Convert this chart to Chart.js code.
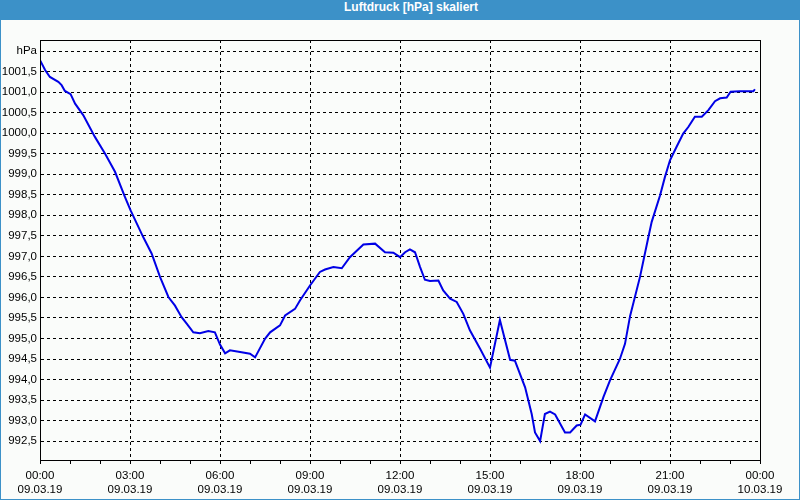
<!DOCTYPE html>
<html>
<head>
<meta charset="utf-8">
<script src="https://cdn.jsdelivr.net/npm/chart.js@4.4.1/dist/chart.umd.min.js"></script>
<style>
  html, body { margin: 0; padding: 0; background: #ffffff; }
  #frame {
    position: absolute; left: 0; top: 0; width: 798px; height: 499px;
    border-left: 1px solid #3c91c8; border-right: 1px solid #3c91c8; border-bottom: 1px solid #3c91c8;
    background: #fafcfa;
  }
  #title {
    height: 20px; line-height: 20px; background: #3c91c8; color: #fff; padding-left: 22px;
    font: bold 12px "Liberation Sans", Arial, sans-serif; text-align: center;
  }
  #wrap { position: absolute; left: 0; top: 20px; width: 798px; height: 479px; }
</style>
</head>
<body>
<div id="frame">
  <div id="title">Luftdruck [hPa] skaliert</div>
  <div id="wrap"><canvas id="luftdruckChart"></canvas></div>
</div>
<script>
// hours since 09.03.19 00:00
var hours = [0.00, 0.17, 0.33, 0.61, 0.72, 0.83, 1.02, 1.17, 1.44, 1.83, 2.17, 2.50, 2.83, 3.02,
  3.44, 3.72, 4.00, 4.28, 4.50, 4.72, 4.89, 5.11, 5.33, 5.61, 5.83, 6.00, 6.17, 6.33, 6.67,
  7.00, 7.17, 7.50, 7.67, 8.00, 8.17, 8.50, 8.67, 9.00, 9.33, 9.50, 9.78, 10.06, 10.33, 10.78,
  11.17, 11.50, 11.78, 12.00, 12.17, 12.33, 12.50, 12.67, 12.83, 13.00, 13.28, 13.44, 13.67,
  13.89, 14.11, 14.33, 14.67, 15.00, 15.33, 15.67, 15.83, 16.17, 16.39, 16.50, 16.67, 16.83,
  17.00, 17.17, 17.50, 17.67, 17.89, 18.02, 18.17, 18.50, 18.78, 19.00, 19.33, 19.50, 19.67,
  20.00, 20.28, 20.39, 20.67, 20.83, 21.00, 21.22, 21.44, 21.61, 21.83, 22.06, 22.28, 22.50,
  22.67, 22.89, 23.02, 23.33, 23.78, 23.83];

// Luftdruck in hPa
var pressure = [1001.78, 1001.54, 1001.37, 1001.25, 1001.17, 1001.03, 1000.95, 1000.72, 1000.44,
  999.91, 999.50, 999.06, 998.45, 998.12, 997.47, 997.07, 996.50, 996.01, 995.80, 995.52, 995.36,
  995.15, 995.13, 995.18, 995.15, 994.85, 994.64, 994.71, 994.67, 994.63, 994.54, 994.99, 995.15,
  995.32, 995.56, 995.72, 995.93, 996.29, 996.62, 996.68, 996.74, 996.71, 996.98, 997.29, 997.31,
  997.10, 997.09, 996.98, 997.10, 997.17, 997.10, 996.74, 996.43, 996.40, 996.41, 996.17, 995.97,
  995.89, 995.60, 995.20, 994.75, 994.29, 995.45, 994.48, 994.46, 993.81, 993.16, 992.71, 992.50,
  993.16, 993.22, 993.15, 992.71, 992.71, 992.88, 992.90, 993.15, 992.98, 993.57, 993.98, 994.50,
  994.87, 995.55, 996.50, 997.47, 997.84, 998.49, 998.93, 999.34, 999.67, 999.99, 1000.15,
  1000.40, 1000.40, 1000.56, 1000.78, 1000.85, 1000.87, 1001.01, 1001.02, 1001.02, 1001.07];

var timeLabels = ["00:00", "03:00", "06:00", "09:00", "12:00", "15:00", "18:00", "21:00", "00:00"];
var dateLabels = ["09.03.19", "09.03.19", "09.03.19", "09.03.19", "09.03.19", "09.03.19", "09.03.19", "09.03.19", "10.03.19"];
var unitLabel = "hPa";

var points = hours.map(function(h, i) { return { x: h, y: pressure[i] }; });

var labelFont = { family: "Liberation Sans, Arial, sans-serif", size: 11.5 };

// solid box round the plot area
var frameBox = {
  id: 'frameBox',
  afterDraw: function(chart) {
    var a = chart.chartArea, c = chart.ctx;
    c.save();
    c.strokeStyle = '#000';
    c.lineWidth = 1;
    c.strokeRect(Math.round(a.left) + 0.5, Math.round(a.top) + 0.5,
      Math.round(a.right - a.left), Math.round(a.bottom - a.top));
    c.restore();
  }
};

var ctx = document.getElementById("luftdruckChart").getContext("2d");
var myChart = new Chart(ctx, {
  type: 'line',
  data: {
    datasets: [{
      data: points,
      borderColor: '#0000e6',
      borderWidth: 2,
      pointRadius: 0,
      tension: 0,
      fill: false
    }]
  },
  options: {
    responsive: true,
    maintainAspectRatio: false,
    animation: false,
    devicePixelRatio: 1,
    layout: { padding: { left: 0, top: 20, right: 39, bottom: 0 } },
    plugins: { legend: { display: false }, tooltip: { enabled: false } },
    scales: {
      x: {
        type: 'linear',
        min: 0,
        max: 24,
        afterFit: function(scale) { scale.height = 39; },
        ticks: {
          stepSize: 1,
          autoSkip: false,
          maxRotation: 0,
          padding: 5,
          color: '#000',
          font: labelFont,
          callback: function(v) {
            if (v % 3 !== 0) return '';
            return [timeLabels[v / 3], dateLabels[v / 3]];
          }
        },
        grid: {
          drawOnChartArea: true,
          color: function(c) {
            var v = c.tick ? c.tick.value : 0;
            return (v % 3 === 0 && v > 0 && v < 24) ? '#000' : 'rgba(0,0,0,0)';
          },
          tickColor: '#000',
          tickLength: 4,
          tickBorderDash: [],
          lineWidth: 1
        },
        border: { display: true, color: '#000', dash: [3, 3] }
      },
      y: {
        min: 992.04,
        max: 1002.27,
        afterFit: function(scale) { scale.width = 39; },
        ticks: {
          stepSize: 0.5,
          includeBounds: false,
          padding: 3,
          color: '#000',
          font: labelFont,
          callback: function(v) {
            var r = Math.round(v * 2) / 2;
            if (r === 1002) return unitLabel;
            return r.toFixed(1).replace('.', ',');
          }
        },
        grid: {
          drawTicks: false,
          color: '#000',
          lineWidth: 1
        },
        border: { display: true, color: '#000', dash: [3, 3] }
      }
    }
  },
  plugins: [frameBox]
});
</script>
</body>
</html>
